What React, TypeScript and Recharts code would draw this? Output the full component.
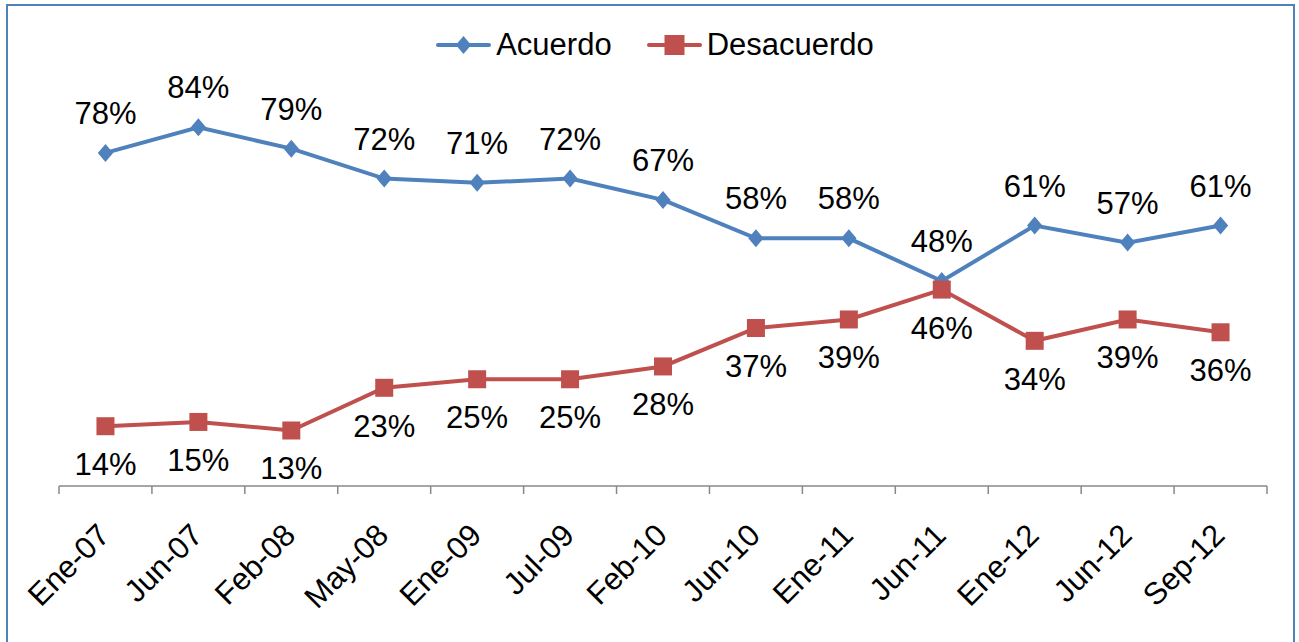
import React from 'react';
import { LineChart, Line, XAxis, YAxis, Legend, LabelList } from 'recharts';

const months = ['Ene-07', 'Jun-07', 'Feb-08', 'May-08', 'Ene-09', 'Jul-09', 'Feb-10', 'Jun-10', 'Ene-11', 'Jun-11', 'Ene-12', 'Jun-12', 'Sep-12'];
const acuerdo = [78, 84, 79, 72, 71, 72, 67, 58, 58, 48, 61, 57, 61];
const desacuerdo = [14, 15, 13, 23, 25, 25, 28, 37, 39, 46, 34, 39, 36];

const rows = months.map((m, i) => ({ month: m, acuerdo: acuerdo[i], desacuerdo: desacuerdo[i] }));

const BLUE = '#4F81BD';
const RED = '#C0504D';
const FONT = "'Liberation Sans', Arial, sans-serif";
const FS = 31;

const W = 1299;
const H = 642;
const MARGIN = { top: 29, right: 32, bottom: 126, left: 59 };
const HALF_BAND = (W - MARGIN.left - MARGIN.right) / months.length / 2;

if (typeof document !== 'undefined') document.body.style.margin = '0';

function Diamond({ cx, cy, size = 9, color = BLUE }: any) {
  if (cx == null || cy == null) return null;
  return <path d={`M${cx},${cy - size} L${cx + size * 0.85},${cy} L${cx},${cy + size} L${cx - size * 0.85},${cy} Z`} fill={color} />;
}

function Square({ cx, cy, size = 9, color = RED }: any) {
  if (cx == null || cy == null) return null;
  return <rect x={cx - size} y={cy - size} width={size * 2} height={size * 2} fill={color} />;
}

function MonthTick(props: any) {
  const { x, y, payload, index } = props;
  const tx = x + 6;
  const ty = y + 51;
  return (
    <g>
      <line x1={x - HALF_BAND} x2={x - HALF_BAND} y1={y} y2={y + 8} stroke="#888" strokeWidth={1.5} />
      {index === months.length - 1 && (
        <line x1={x + HALF_BAND} x2={x + HALF_BAND} y1={y} y2={y + 8} stroke="#888" strokeWidth={1.5} />
      )}
      <text x={tx} y={ty} textAnchor="end" transform={`rotate(-45 ${tx} ${ty})`} fontSize={FS} fontFamily={FONT} fill="#000">
        {payload.value}
      </text>
    </g>
  );
}

const pctLabel = (dy: number) => (props: any) => {
  const { x, y, value } = props;
  return (
    <text x={x} y={y + dy} textAnchor="middle" fontSize={FS} fontFamily={FONT} fill="#000">
      {value}%
    </text>
  );
};

function LegendIcon({ kind }: { kind: 'diamond' | 'square' }) {
  return (
    <svg width={55} height={30} style={{ display: 'block' }}>
      <line x1={2} x2={53} y1={15} y2={15} stroke={kind === 'diamond' ? BLUE : RED} strokeWidth={4} strokeLinecap="round" />
      {kind === 'diamond' ? <Diamond cx={27.5} cy={15} size={9} /> : <Square cx={27.5} cy={15} size={10} />}
    </svg>
  );
}

function LegendContent() {
  const items: { label: string; kind: 'diamond' | 'square' }[] = [
    { label: 'Acuerdo', kind: 'diamond' },
    { label: 'Desacuerdo', kind: 'square' },
  ];
  return (
    <div style={{ height: 30, display: 'flex', justifyContent: 'center', alignItems: 'center', gap: 35, fontFamily: FONT, fontSize: FS, color: '#000', marginLeft: -16 }}>
      {items.map((it) => (
        <div key={it.label} style={{ display: 'flex', alignItems: 'center', gap: 5, lineHeight: '30px' }}>
          <LegendIcon kind={it.kind} />
          <span>{it.label}</span>
        </div>
      ))}
    </div>
  );
}

export default function App() {
  return (
    <div style={{ position: 'relative', width: W, height: H, overflow: 'hidden', background: '#fff' }}>
      <div style={{ position: 'absolute', left: 6, top: 4, width: 1289, height: 700, border: `2px solid ${BLUE}`, boxSizing: 'border-box' }} />
      <div style={{ position: 'absolute', left: 0, top: 0 }}>
        <LineChart width={W} height={H} data={rows} margin={MARGIN}>
          <XAxis
            dataKey="month"
            interval={0}
            padding={{ left: HALF_BAND, right: HALF_BAND }}
            axisLine={{ stroke: '#888', strokeWidth: 1.5 }}
            tickLine={false}
            tickSize={0}
            tickMargin={0}
            height={30}
            tick={<MonthTick />}
          />
          <YAxis hide domain={[0, 100]} />
          <Legend verticalAlign="top" align="center" wrapperStyle={{ top: 30 }} content={<LegendContent />} />
          <Line
            dataKey="acuerdo"
            name="Acuerdo"
            stroke={BLUE}
            strokeWidth={4}
            isAnimationActive={false}
            dot={(p: any) => <Diamond key={`a-${p.index}`} cx={p.cx} cy={p.cy} />}
            activeDot={false}
          >
            <LabelList dataKey="acuerdo" content={pctLabel(-29)} />
          </Line>
          <Line
            dataKey="desacuerdo"
            name="Desacuerdo"
            stroke={RED}
            strokeWidth={4}
            isAnimationActive={false}
            dot={(p: any) => <Square key={`d-${p.index}`} cx={p.cx} cy={p.cy} />}
            activeDot={false}
          >
            <LabelList dataKey="desacuerdo" content={pctLabel(49)} />
          </Line>
        </LineChart>
      </div>
    </div>
  );
}
